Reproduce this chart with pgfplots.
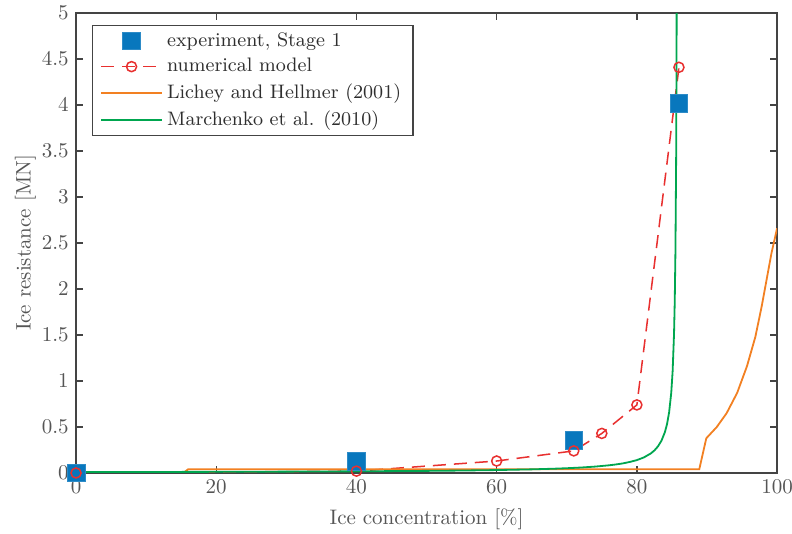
\documentclass[border=0pt]{standalone}
\usepackage{pgfplots}
\pgfplotsset{compat=1.18}

\definecolor{axisgray}{HTML}{444444}
\definecolor{labelgray}{HTML}{555555}
\definecolor{textdark}{HTML}{2E2E2E}
\definecolor{expblue}{HTML}{0877BD}
\definecolor{numred}{HTML}{E8302F}
\definecolor{lhorange}{HTML}{F28022}
\definecolor{mgreen}{HTML}{00A64F}

\begin{document}
\begin{tikzpicture}
\begin{axis}[
  scale only axis,
  width=333.8pt, height=219pt,
  xmin=0, xmax=100, ymin=0, ymax=5,
  xtick={0,20,40,60,80,100},
  ytick={0,0.5,1,1.5,2,2.5,3,3.5,4,4.5,5},
  tick align=inside,
  axis line style={draw=axisgray, line width=0.6pt},
  tick style={draw=axisgray, line width=0.6pt},
  major tick length=3.3pt,
  ticklabel style={text=labelgray},
  xlabel={Ice concentration [\%]},
  ylabel={Ice resistance [MN]},
  label style={text=labelgray},
  ylabel style={yshift=-4pt},
  legend cell align=left,
  legend style={
    at={(0.0228,0.974)}, anchor=north west,
    draw=axisgray, line width=0.6pt, fill=white,
    text=textdark, font=\fontsize{9.3}{11}\selectfont,
    inner xsep=3.6pt, inner ysep=1.2pt,
    row sep=0.3pt,
  },
  legend image code/.code={%
    \draw[mark repeat=2, mark phase=2]
      plot coordinates {(0pt,0pt) (14.5pt,0pt) (29pt,0pt)};
  },
]

% experiment, Stage 1
\addplot[only marks, mark=square*, mark size=4.2pt,
  mark options={fill=expblue, draw=expblue!85!white, line width=0.3pt}]
  coordinates {(0,0) (40,0.13) (71,0.355) (86,4.02)};
\addlegendentry{experiment, Stage 1}

% numerical model
\addplot[numred, line width=0.72pt, dash pattern=on 6.2pt off 3.8pt,
  mark=o, mark size=2.4pt, mark options={solid, line width=0.72pt}]
  coordinates {(0,0) (40,0.02) (60,0.13) (71,0.24) (75,0.43) (80,0.74) (86,4.41)};
\addlegendentry{numerical model}

% Lichey and Hellmer (2001)
\addplot[lhorange, line width=0.86pt, no marks]
  coordinates {(0,0) (15.3,0) (16,0.04) (88.9,0.04) (89.9,0.377)
    (91.4,0.50) (92.8,0.65) (94.3,0.87) (95.7,1.16) (96.9,1.48)
    (97.8,1.81) (98.5,2.10) (99.2,2.39) (100,2.66)};
\addlegendentry{Lichey and Hellmer (2001)}

% Marchenko et al. (2010)
\addplot[mgreen, line width=0.86pt, no marks]
  coordinates {(0,0.0095) (10,0.0108) (20,0.0124) (30,0.0146) (40,0.0178)
    (50,0.0228) (55,0.0265) (60,0.0317) (65,0.0393) (68,0.0459) (70,0.0516)
    (72,0.0591) (74,0.0691) (76,0.0831) (77,0.0925) (78,0.104) (79,0.120)
    (80,0.140) (81,0.169) (82,0.213) (82.5,0.245) (83,0.288) (83.5,0.350)
    (84,0.445) (84.3,0.531) (84.6,0.660) (84.9,0.870) (85.1,1.105)
    (85.3,1.515) (85.4,1.859) (85.5,2.406) (85.6,3.408) (85.65,4.305)
    (85.7,5.843) (85.72,7)};
\addlegendentry{Marchenko et al. (2010)}

\end{axis}
% page frame around the axis box
\pgfresetboundingbox
\path[use as bounding box]
  ([shift={(-36.2pt,-28.6pt)}]current axis.south west)
  rectangle ([shift={(7.1pt,6.2pt)}]current axis.north east);
\end{tikzpicture}
\end{document}
